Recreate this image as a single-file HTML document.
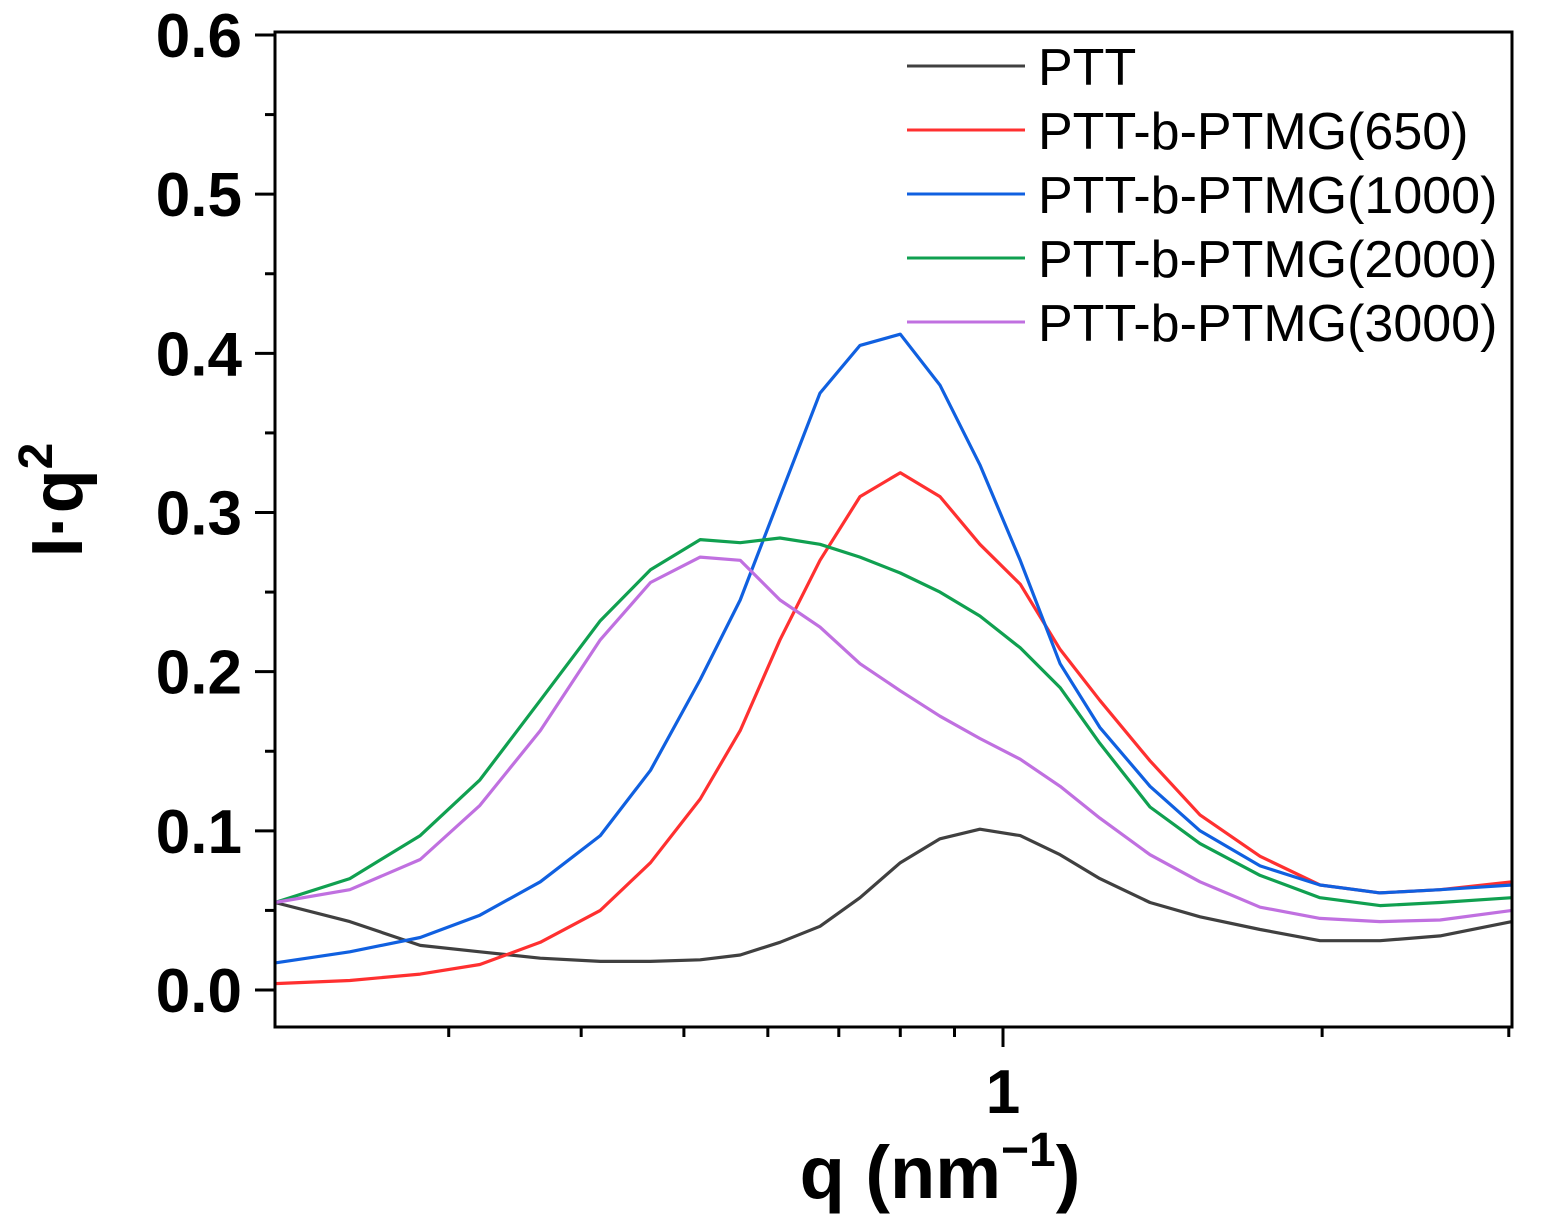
<!DOCTYPE html>
<html><head><meta charset="utf-8"><style>
html,body{margin:0;padding:0;background:#fff}
svg{display:block}
text{font-family:"Liberation Sans",Arial,sans-serif}
</style></head><body>
<svg id="chart" width="1541" height="1225" viewBox="0 0 1541 1225"></svg>
<script>
const qValues=[0.2057,0.242,0.282,0.321,0.366,0.417,0.465,0.518,0.565,0.616,0.672,0.733,0.800,0.872,0.951,1.038,1.132,1.234,1.376,1.534,1.748,1.991,2.268,2.584,3.021];
const seriesNames=["PTT","PTT-b-PTMG(650)","PTT-b-PTMG(1000)","PTT-b-PTMG(2000)","PTT-b-PTMG(3000)"];
const pttValues=[.055,.043,.028,.024,.020,.018,.018,.019,.022,.030,.040,.058,.080,.095,.101,.097,.085,.070,.055,.046,.038,.031,.031,.034,.043];
const ptmg650Values=[.004,.006,.010,.016,.030,.050,.080,.120,.163,.22,.27,.31,.325,.31,.28,.255,.214,.182,.144,.11,.084,.066,.061,.063,.068];
const ptmg1000Values=[.017,.024,.033,.047,.068,.097,.138,.195,.245,.31,.375,.405,.412,.38,.33,.27,.205,.165,.128,.10,.078,.066,.061,.063,.066];
const ptmg2000Values=[.055,.07,.097,.132,.182,.232,.264,.283,.281,.284,.280,.272,.262,.25,.235,.215,.19,.155,.115,.092,.072,.058,.053,.055,.058];
const ptmg3000Values=[.055,.063,.082,.116,.163,.22,.256,.272,.270,.245,.228,.205,.188,.172,.158,.145,.128,.108,.085,.068,.052,.045,.043,.044,.050];
const yTicks=[0,0.1,0.2,0.3,0.4,0.5,0.6];
const yTickLabels=["0.0","0.1","0.2","0.3","0.4","0.5","0.6"];
const xMinorTicks=[0.3,0.4,0.5,0.6,0.7,0.8,0.9,2,3];
const colors=["#404040","#ff3030","#1060e0","#10a050","#c070e0"];

const L=275,R=1512,T=32,B=1027;
const qMin=0.2057,qMax=3.021;
function xs(q){return L+(Math.log10(q)-Math.log10(qMin))/(Math.log10(qMax)-Math.log10(qMin))*(R-L);}
function ys(v){return 990-v/0.6*(990-35);}
const NS="http://www.w3.org/2000/svg";
const svg=document.getElementById('chart');
function mk(tag,attrs,parent){const e=document.createElementNS(NS,tag);for(const k in attrs)e.setAttribute(k,attrs[k]);(parent||svg).appendChild(e);return e;}

const all=[pttValues,ptmg650Values,ptmg1000Values,ptmg2000Values,ptmg3000Values];
[0,1,2,3,4].forEach(i=>{
  const d=qValues.map((q,j)=>(j?'L':'M')+xs(q).toFixed(1)+','+ys(all[i][j]).toFixed(1)).join(' ');
  const p=mk('path',{d:d,fill:'none',stroke:colors[i],'stroke-width':3.2,'stroke-linejoin':'round'});
  
  
});

const fr=mk('rect',{x:L,y:T,width:R-L,height:B-T,fill:'none',stroke:'#000','stroke-width':3});



yTicks.forEach((v,i)=>{
  const y=ys(v);
  const t=mk('line',{x1:L-20,x2:L,y1:y,y2:y,stroke:'#000','stroke-width':3});
  
  
  const lb=mk('text',{x:L-33,y:y+22,'text-anchor':'end','font-size':62,'font-weight':'bold'});
  lb.textContent=yTickLabels[i];
  
  
  if(i<yTicks.length-1){
    const ym=ys(v+0.05);
    const m=mk('line',{x1:L-10,x2:L,y1:ym,y2:ym,stroke:'#000','stroke-width':3});
    
    
  }
});
const xm=xs(1);
const xt=mk('line',{x1:xm,x2:xm,y1:B,y2:B+20,stroke:'#000','stroke-width':3});


const xl=mk('text',{x:xm,y:B+86,'text-anchor':'middle','font-size':62,'font-weight':'bold'});
xl.textContent='1';


xMinorTicks.forEach(q=>{
  const x=xs(q);
  const m=mk('line',{x1:x,x2:x,y1:B,y2:B+10,stroke:'#000','stroke-width':3});
  
  
});

const xt2=mk('text',{x:940,y:1198,'text-anchor':'middle','font-size':74,'font-weight':'bold'});
xt2.innerHTML='q (nm<tspan dy="-32" font-size="48">−1</tspan><tspan dy="32">)</tspan>';


const yt=mk('text',{x:0,y:0,'text-anchor':'middle','font-size':72,'font-weight':'bold',transform:'translate(82,500) rotate(-90)'});
yt.innerHTML='I·q<tspan dy="-30" font-size="48">2</tspan>';



seriesNames.forEach((n,i)=>{
  const y=66+i*64;
  const ln=mk('line',{x1:907,x2:1025,y1:y,y2:y,stroke:colors[i],'stroke-width':3});
  
  
  const tx=mk('text',{x:1038,y:y+19,'font-size':52});
  tx.textContent=n;
  
  
});
</script>
</body></html>
